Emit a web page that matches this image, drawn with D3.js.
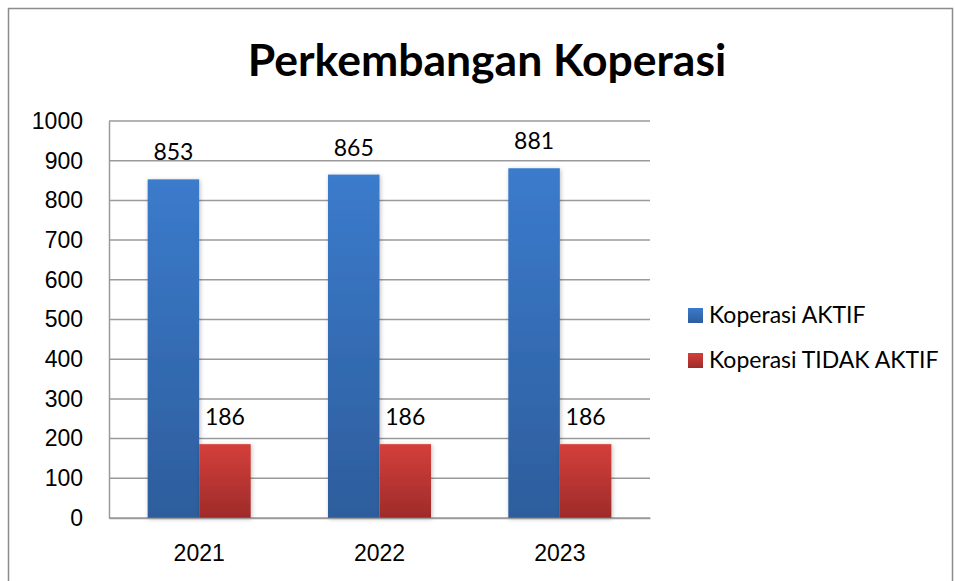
<!DOCTYPE html>
<html>
<head>
<meta charset="utf-8">
<script src="https://cdn.jsdelivr.net/npm/d3@7"></script>
<style>
  body { margin: 0; background: #fff; }
  svg { display: block; font-family: Lato, "Open Sans", sans-serif; }
</style>
</head>
<body>
<div id="chart"></div>
<script>
// data
var years = ["2021", "2022", "2023"];
var seriesNames = ["Koperasi AKTIF", "Koperasi TIDAK AKTIF"];
var aktif = [853, 865, 881];
var tidakAktif = [186, 186, 186];
var yTicks = [0, 100, 200, 300, 400, 500, 600, 700, 800, 900, 1000];

var width = 955, height = 581,
    margin = {top: 121, right: 305, bottom: 63, left: 109};

var svg = d3.select("#chart").append("svg")
    .attr("width", width)
    .attr("height", height);

var defs = svg.append("defs");
function grad(id, top, bottom) {
  var g = defs.append("linearGradient").attr("id", id)
    .attr("x1", 0).attr("y1", 0).attr("x2", 0).attr("y2", 1);
  g.append("stop").attr("offset", "0%").attr("stop-color", top);
  g.append("stop").attr("offset", "100%").attr("stop-color", bottom);
}
grad("gBlue", "#3b7bcc", "#2d5d9c");
grad("gRed", "#d43f3b", "#9e2b29");
var shadow = defs.append("filter").attr("id", "shadow")
  .attr("x", "-20%").attr("y", "-20%").attr("width", "140%").attr("height", "140%");
shadow.append("feDropShadow").attr("dx", 1).attr("dy", 1).attr("stdDeviation", 2)
  .attr("flood-color", "#000").attr("flood-opacity", 0.25);

// outer frame
svg.append("rect")
  .attr("x", 8.5).attr("y", 8.5)
  .attr("width", 944).attr("height", 600)
  .attr("fill", "none").attr("stroke", "#8c8c8c").attr("stroke-width", 1.5);

svg.append("text")
  .attr("x", 487).attr("y", 76)
  .attr("text-anchor", "middle")
  .style("font-size", "44.5px").style("font-weight", "bold")
  .text("Perkembangan Koperasi");

var w = width - margin.left - margin.right,
    h = height - margin.top - margin.bottom;

var g = svg.append("g")
  .attr("transform", "translate(" + margin.left + "," + margin.top + ")");

var x0 = d3.scaleBand().domain(years).range([0, w]).paddingInner(0).paddingOuter(0);
// gap width 150%: two bars + 1.5 bar gap per category
var barW = x0.bandwidth() / 3.5;
var x1 = d3.scaleBand().domain(seriesNames)
  .range([barW * 0.75, barW * 2.75]);
var y = d3.scaleLinear().domain([0, 1000]).range([h, 0]);

// gridlines
g.append("g").selectAll("line")
  .data(yTicks)
  .enter().append("line")
    .attr("x1", 0).attr("x2", w)
    .attr("y1", function(d) { return y(d); })
    .attr("y2", function(d) { return y(d); })
    .attr("stroke", "#9a9a9a").attr("stroke-width", 1.5);

// y axis
var yAxis = d3.axisLeft(y).tickValues(yTicks).tickFormat(d3.format("d")).tickSize(0).tickPadding(26);
var ya = g.append("g").call(yAxis);
ya.select(".domain").attr("stroke", "#9a9a9a").attr("stroke-width", 1.5);
ya.selectAll("text").style("font-size", "23px").attr("fill", "#000");

var data = years.map(function(yr, i) {
  return {year: yr, vals: [aktif[i], tidakAktif[i]]};
});

var groups = g.selectAll(".grp")
  .data(data)
  .enter().append("g")
    .attr("class", "grp")
    .attr("transform", function(d) { return "translate(" + x0(d.year) + ",0)"; });

groups.selectAll("rect")
  .data(function(d) { return d.vals.map(function(v, i) { return {key: seriesNames[i], v: v}; }); })
  .enter().append("rect")
    .attr("x", function(d) { return x1(d.key); })
    .attr("y", function(d) { return y(d.v); })
    .attr("width", x1.bandwidth())
    .attr("height", function(d) { return h - y(d.v); })
    .attr("fill", function(d, i) { return i == 0 ? "url(#gBlue)" : "url(#gRed)"; })
    .attr("filter", "url(#shadow)");

groups.selectAll(".lbl")
  .data(function(d) { return d.vals.map(function(v, i) { return {key: seriesNames[i], v: v}; }); })
  .enter().append("text")
    .attr("class", "lbl")
    .attr("x", function(d) { return x1(d.key) + x1.bandwidth() / 2; })
    .attr("y", function(d) { return y(d.v) - 19; })
    .attr("text-anchor", "middle")
    .style("font-size", "23px")
    .text(function(d) { return d.v; });

// x axis
var xAxis = d3.axisBottom(x0).tickSize(0).tickPadding(27);
var xa = g.append("g").attr("transform", "translate(0," + h + ")").call(xAxis);
xa.select(".domain").attr("stroke", "#9a9a9a").attr("stroke-width", 1.5);
xa.selectAll("text").style("font-size", "23px").attr("fill", "#000");

// legend
var legend = svg.selectAll(".legend")
  .data(seriesNames)
  .enter().append("g")
    .attr("class", "legend")
    .attr("transform", function(d, i) { return "translate(688," + (315 + i * 45) + ")"; });

legend.append("rect")
  .attr("x", 0).attr("y", -7)
  .attr("width", 15).attr("height", 15)
  .attr("fill", function(d, i) { return i == 0 ? "url(#gBlue)" : "url(#gRed)"; });

legend.append("text")
  .attr("x", 21).attr("dy", ".35em")
  .style("font-size", "23px")
  .text(function(d) { return d; });
</script>
</body>
</html>
